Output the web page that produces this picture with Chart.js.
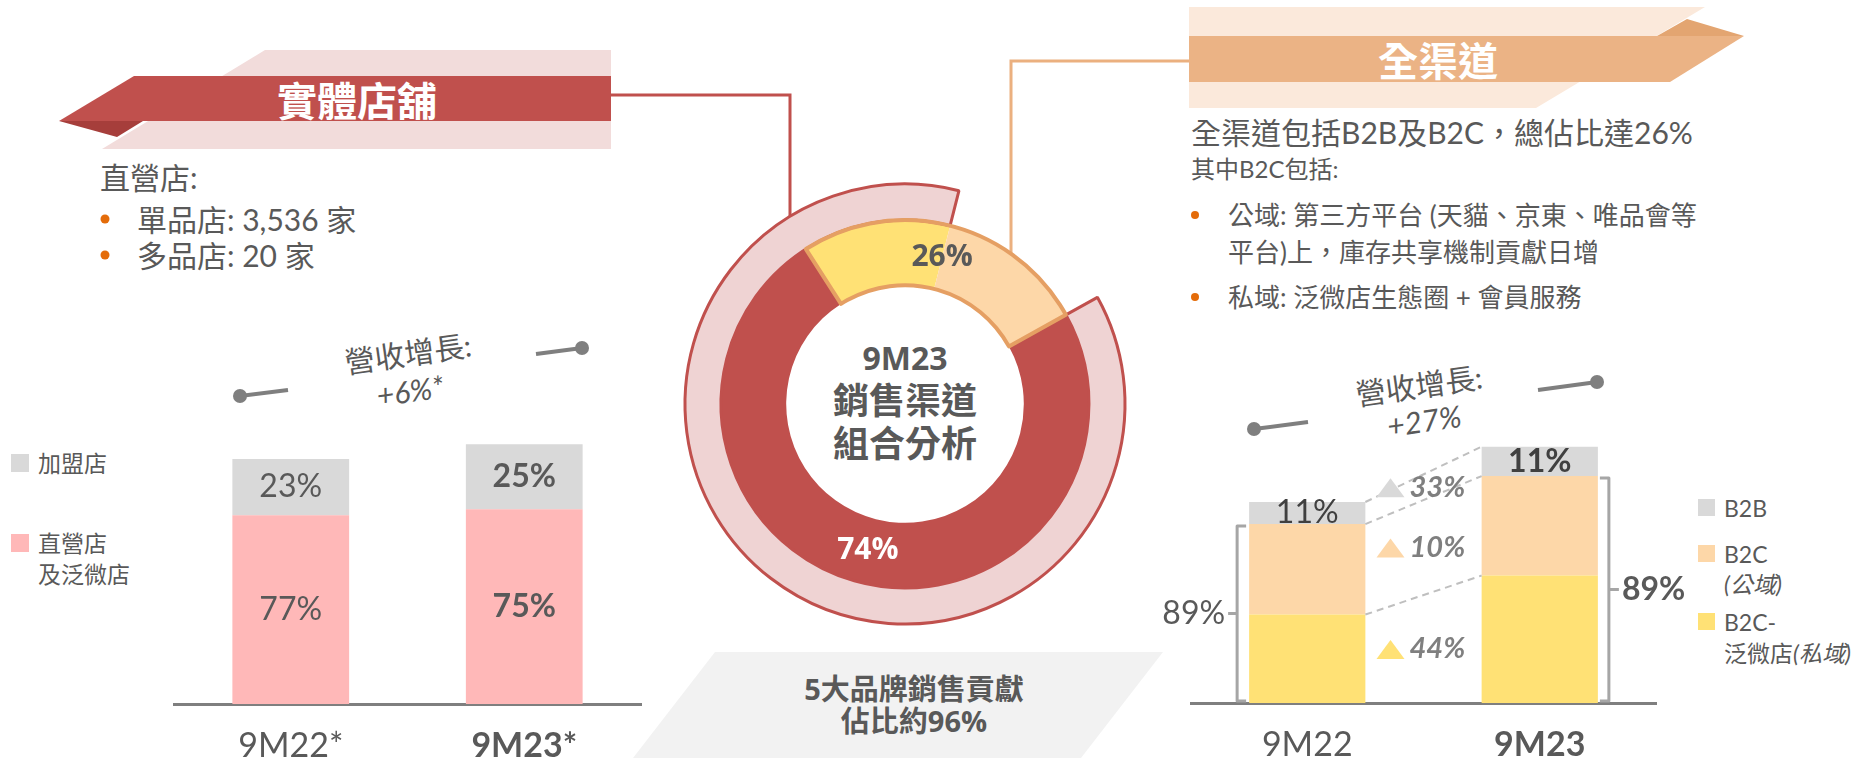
<!DOCTYPE html>
<html>
<head>
<meta charset="utf-8">
<script src="https://cdn.jsdelivr.net/npm/chart.js@4/dist/chart.umd.min.js"></script>
<style>
  html, body { margin: 0; padding: 0; background: #fff; }
  #wrap { position: relative; width: 1866px; height: 758px; overflow: hidden; }
  #deco { position: absolute; left: 0; top: 0; z-index: 0; }
  canvas { position: absolute; z-index: 1; }
  .t { font-family: Lato, "Noto Sans CJK TC", sans-serif; fill: #595959; }
  .b { font-family: "Open Sans", "Noto Sans CJK TC", sans-serif; font-weight: bold; fill: #595959; }
</style>
</head>
<body>
<div id="wrap">
<svg id="deco" width="1866" height="758" xmlns="http://www.w3.org/2000/svg">
  <!-- bottom note -->
  <polygon points="715,652 1163,652 1081,758 633,758" fill="#F2F2F2"/>
  <text class="b" x="914" y="688" font-size="29" text-anchor="middle" dominant-baseline="central">5大品牌銷售貢獻</text>
  <text class="b" x="914" y="720" font-size="29" text-anchor="middle" dominant-baseline="central">佔比約96%</text>

  <!-- left banner -->
  <polygon points="265,50 611,50 611,149 102,149" fill="#F2DCDB"/>
  <polygon points="134,76 611,76 611,121 59,121" fill="#C0504D"/>
  <polygon points="59,121 143,121 117,137" fill="#A63E3B"/>
  <text x="357" y="99" font-family="'Noto Sans CJK TC', sans-serif" font-weight="bold" font-size="40" fill="#fff" text-anchor="middle" dominant-baseline="central">實體店舖</text>
  <polyline points="611,95 790,95 790,218" fill="none" stroke="#C0504D" stroke-width="3"/>

  <text class="t" x="100" y="177" font-size="30" dominant-baseline="central">直營店:</text>
  <circle cx="105" cy="219" r="4.5" fill="#E46C0A"/>
  <text class="t" x="137" y="219" font-size="30" dominant-baseline="central">單品店: 3,536 家</text>
  <circle cx="105" cy="255" r="4.5" fill="#E46C0A"/>
  <text class="t" x="137" y="255" font-size="30" dominant-baseline="central">多品店: 20 家</text>

  <text class="t" x="408" y="353" font-size="30" text-anchor="middle" dominant-baseline="central" transform="rotate(-8 408 353)">營收增長:</text>
  <text id="leftGrowth" class="t" x="410" y="390" font-size="30" font-style="italic" text-anchor="middle" dominant-baseline="central" transform="rotate(-8 410 390)"></text>
  <line x1="240" y1="396" x2="288" y2="390" stroke="#7F7F7F" stroke-width="4"/>
  <circle cx="240" cy="396" r="7" fill="#7F7F7F"/>
  <line x1="536" y1="354" x2="582" y2="348" stroke="#7F7F7F" stroke-width="4"/>
  <circle cx="582" cy="348" r="7" fill="#7F7F7F"/>

  <g id="leftLegend"></g>

  <!-- right banner -->
  <polygon points="1189,7 1705,7 1536,108 1189,108" fill="#FBE9DB"/>
  <polygon points="1189,36 1744,36 1670,82 1189,82" fill="#EBB385"/>
  <polygon points="1657,36 1687,19 1744,36" fill="#E3A571"/>
  <text x="1438" y="59" font-family="'Noto Sans CJK TC', sans-serif" font-weight="bold" font-size="40" fill="#fff" text-anchor="middle" dominant-baseline="central">全渠道</text>
  <polyline points="1011,256 1011,61 1189,61" fill="none" stroke="#EBB07F" stroke-width="3"/>

  <text class="t" x="1191" y="132" font-size="30" dominant-baseline="central">全渠道包括B2B及B2C，總佔比達26%</text>
  <text class="t" x="1191" y="168" font-size="24" dominant-baseline="central">其中B2C包括:</text>
  <circle cx="1195" cy="215" r="4" fill="#E46C0A"/>
  <text class="t" x="1228" y="215" font-size="26" dominant-baseline="central">公域: 第三方平台 (天貓、京東、唯品會等</text>
  <text class="t" x="1228" y="252" font-size="26" dominant-baseline="central">平台)上，庫存共享機制貢獻日增</text>
  <circle cx="1195" cy="297" r="4" fill="#E46C0A"/>
  <text class="t" x="1228" y="297" font-size="26" dominant-baseline="central">私域: 泛微店生態圈 + 會員服務</text>

  <text class="t" x="1419" y="385" font-size="30" text-anchor="middle" dominant-baseline="central" transform="rotate(-8 1419 385)">營收增長:</text>
  <text id="rightGrowth" class="t" x="1424" y="420" font-size="30" font-style="italic" text-anchor="middle" dominant-baseline="central" transform="rotate(-8 1424 420)"></text>
  <line x1="1254" y1="429" x2="1308" y2="422" stroke="#7F7F7F" stroke-width="4"/>
  <circle cx="1254" cy="429" r="7" fill="#7F7F7F"/>
  <line x1="1538" y1="390" x2="1597" y2="382" stroke="#7F7F7F" stroke-width="4"/>
  <circle cx="1597" cy="382" r="7" fill="#7F7F7F"/>

  <g id="rightLegend"></g>

  <!-- donut centre -->
  <text class="b" x="905" y="357" font-size="32" text-anchor="middle" dominant-baseline="central">9M23</text>
  <text class="b" x="905" y="400" font-size="36" text-anchor="middle" dominant-baseline="central">銷售渠道</text>
  <text class="b" x="905" y="443" font-size="36" text-anchor="middle" dominant-baseline="central">組合分析</text>
</svg>

<canvas id="leftChart" width="520" height="418" style="left:150px;top:340px"></canvas>
<canvas id="donutChart" width="480" height="480" style="left:665px;top:164px"></canvas>
<canvas id="rightChart" width="560" height="418" style="left:1140px;top:340px"></canvas>
</div>

<script>
// ---- left: 實體店舖 revenue mix (9M22 = 100) ----
const leftCategories = ["9M22*", "9M23*"];
const leftDirect = [77, 79.5];       // 直營店及泛微店
const leftFranchise = [23, 26.5];    // 加盟店
const leftDirectLabels = ["77%", "75%"];
const leftFranchiseLabels = ["23%", "25%"];
const leftGrowth = "+6%*";

// ---- centre: 9M23 channel mix ----
const channelNames = ["實體店舖", "B2C-泛微店(私域)", "B2C(公域)及B2B"];
const channelValues = [74, 13, 13];
const channelLabels = ["74%", "26%"];
const ringValues = [87, 13];

// ---- right: 全渠道 revenue mix (9M22 = 100) ----
const rightCategories = ["9M22", "9M23"];
const b2cPrivate = [44, 63.4];
const b2cPublic = [45, 49.5];
const b2b = [11, 14.6];
const b2bLabels = ["11%", "11%"];
const b2cLabels = ["89%", "89%"];
const growthLabels = ["44%", "10%", "33%"];
const rightGrowth = "+27%";

const GREY = "#D9D9D9", PINK = "#FFB8B8", PEACH = "#FDD7A8", YELLOW = "#FFE175", RED = "#C0504D";
const TEXT = "#595959";
const NUM_FONT = 'Lato, "Noto Sans CJK TC", sans-serif';
const BOLD_FONT = '"Open Sans", "Noto Sans CJK TC", sans-serif';

document.getElementById("leftGrowth").textContent = leftGrowth;
document.getElementById("rightGrowth").textContent = rightGrowth;

// legends (svg text)
const NS = "http://www.w3.org/2000/svg";
function svgEl(parent, tag, attrs, text) {
  const el = document.createElementNS(NS, tag);
  for (const k in attrs) el.setAttribute(k, attrs[k]);
  if (text) el.textContent = text;
  parent.appendChild(el);
  return el;
}
const ll = document.getElementById("leftLegend");
svgEl(ll, "rect", { x: 11, y: 454, width: 18, height: 18, fill: GREY });
svgEl(ll, "text", { class: "t", x: 38, y: 463, "font-size": 23, "dominant-baseline": "central" }, "加盟店");
svgEl(ll, "rect", { x: 11, y: 534, width: 18, height: 18, fill: PINK });
svgEl(ll, "text", { class: "t", x: 38, y: 543, "font-size": 23, "dominant-baseline": "central" }, "直營店");
svgEl(ll, "text", { class: "t", x: 38, y: 574, "font-size": 23, "dominant-baseline": "central" }, "及泛微店");

const rl = document.getElementById("rightLegend");
svgEl(rl, "rect", { x: 1698, y: 499, width: 17, height: 17, fill: GREY });
svgEl(rl, "text", { class: "t", x: 1724, y: 508, "font-size": 23, "dominant-baseline": "central" }, "B2B");
svgEl(rl, "rect", { x: 1698, y: 545, width: 17, height: 17, fill: PEACH });
svgEl(rl, "text", { class: "t", x: 1724, y: 554, "font-size": 23, "dominant-baseline": "central" }, "B2C");
svgEl(rl, "text", { class: "t", x: 1724, y: 584, "font-size": 23, "font-style": "italic", "dominant-baseline": "central" }, "(公域)");
svgEl(rl, "rect", { x: 1698, y: 613, width: 17, height: 17, fill: YELLOW });
svgEl(rl, "text", { class: "t", x: 1724, y: 622, "font-size": 23, "dominant-baseline": "central" }, "B2C-");
const t2 = svgEl(rl, "text", { class: "t", x: 1724, y: 653, "font-size": 23, "dominant-baseline": "central" });
svgEl(t2, "tspan", {}, "泛微店");
svgEl(t2, "tspan", { "font-style": "italic" }, "(私域)");

// labels inside the left bars
const leftLabelPlugin = {
  id: "leftLabels",
  afterDatasetsDraw(chart) {
    const ctx = chart.ctx;
    const texts = [leftDirectLabels, leftFranchiseLabels];
    chart.data.datasets.forEach((ds, d) => {
      chart.getDatasetMeta(d).data.forEach((bar, i) => {
        const { x, y, base } = bar.getProps(["x", "y", "base"], true);
        ctx.save();
        ctx.font = (i === 1 ? "bold " : "") + "32px " + NUM_FONT;
        ctx.fillStyle = TEXT;
        ctx.textAlign = "center";
        ctx.textBaseline = "middle";
        ctx.fillText(texts[d][i], x, (y + base) / 2);
        ctx.restore();
      });
    });
  }
};

new Chart(document.getElementById("leftChart"), {
  type: "bar",
  data: {
    labels: leftCategories,
    datasets: [
      { label: "直營店及泛微店", data: leftDirect, backgroundColor: PINK },
      { label: "加盟店", data: leftFranchise, backgroundColor: GREY }
    ]
  },
  options: {
    responsive: false,
    animation: false,
    layout: { padding: { left: 24, right: 29, top: 21, bottom: 0 } },
    datasets: { bar: { barPercentage: 1, categoryPercentage: 0.5 } },
    plugins: { legend: { display: false }, tooltip: { enabled: false } },
    scales: {
      x: {
        stacked: true,
        grid: { display: false, drawTicks: false },
        border: { display: true, color: "#7F7F7F", width: 3 },
        ticks: {
          color: TEXT,
          padding: 22,
          font: (c) => ({ family: NUM_FONT, size: 34, weight: c.index === 1 ? "bold" : "normal" })
        },
        afterFit: (s) => { s.height = 54; }
      },
      y: { stacked: true, display: false, min: 0, max: 140 }
    }
  },
  plugins: [leftLabelPlugin]
});

// outline of the 26% slice and the two percentages
const donutPlugin = {
  id: "donutDecor",
  afterDatasetsDraw(chart) {
    const ctx = chart.ctx;
    const arcs = chart.getDatasetMeta(1).data;
    const a = arcs[1].getProps(["x", "y", "startAngle", "innerRadius", "outerRadius"], true);
    const b = arcs[2].getProps(["endAngle"], true);
    ctx.save();
    ctx.beginPath();
    ctx.arc(a.x, a.y, a.outerRadius, a.startAngle, b.endAngle);
    ctx.arc(a.x, a.y, a.innerRadius, b.endAngle, a.startAngle, true);
    ctx.closePath();
    ctx.strokeStyle = "#E59F63";
    ctx.lineWidth = 4;
    ctx.lineJoin = "round";
    ctx.stroke();

    ctx.textAlign = "center";
    ctx.textBaseline = "middle";
    ctx.font = "bold 30px " + BOLD_FONT;
    const p = arcs[0].tooltipPosition(true);
    ctx.fillStyle = "#fff";
    ctx.fillText(channelLabels[0], p.x, p.y);
    const mid = (a.startAngle + b.endAngle) / 2;
    const r = (a.innerRadius + a.outerRadius) / 2;
    ctx.fillStyle = TEXT;
    ctx.fillText(channelLabels[1], a.x + Math.cos(mid) * r, a.y + Math.sin(mid) * r);
    ctx.restore();
  }
};

new Chart(document.getElementById("donutChart"), {
  type: "doughnut",
  data: {
    labels: channelNames,
    datasets: [
      {
        data: ringValues,
        weight: 36,
        backgroundColor: ["#EFD3D3", "rgba(0,0,0,0)"],
        borderColor: [RED, "rgba(0,0,0,0)"],
        borderWidth: [3, 0]
      },
      {
        data: channelValues,
        weight: 65,
        backgroundColor: [RED, YELLOW, PEACH],
        borderWidth: 0
      }
    ]
  },
  options: {
    responsive: false,
    animation: false,
    radius: 220,
    cutout: "54%",
    rotation: 61,
    plugins: { legend: { display: false }, tooltip: { enabled: false } }
  },
  plugins: [donutPlugin]
});

// right chart decorations: dashed links, growth markers, B2B labels, brackets
const rightPlugin = {
  id: "rightDecor",
  afterDatasetsDraw(chart) {
    const ctx = chart.ctx;
    const metas = [0, 1, 2].map((i) => chart.getDatasetMeta(i).data.map((e) => e.getProps(["x", "y", "base", "width"], true)));
    const half = metas[0][0].width / 2;
    const base = chart.scales.y.getPixelForValue(0);
    const segColors = [YELLOW, PEACH, GREY];

    ctx.save();
    ctx.strokeStyle = "#BFBFBF";
    ctx.lineWidth = 2;
    ctx.setLineDash([7, 5]);
    const mids = [base];
    for (let d = 0; d < 3; d++) {
      const p = metas[d][0], q = metas[d][1];
      ctx.beginPath();
      ctx.moveTo(p.x + half, p.y);
      ctx.lineTo(q.x - half, q.y);
      ctx.stroke();
      mids.push((p.y + q.y) / 2);
    }
    ctx.setLineDash([]);

    const midX = (metas[0][0].x + metas[0][1].x) / 2;
    growthLabels.forEach((txt, d) => {
      const cy = (mids[d] + mids[d + 1]) / 2;
      const tx = midX - 33;
      ctx.beginPath();
      ctx.moveTo(tx - 14, cy + 10);
      ctx.lineTo(tx + 14, cy + 10);
      ctx.lineTo(tx, cy - 9);
      ctx.closePath();
      ctx.fillStyle = segColors[d];
      ctx.fill();
      ctx.font = "italic bold 29px " + NUM_FONT;
      ctx.fillStyle = "#7F7F7F";
      ctx.textAlign = "left";
      ctx.textBaseline = "middle";
      ctx.fillText(txt, midX - 14, cy);
    });

    // B2B percentages
    metas[2].forEach((bar, i) => {
      ctx.font = (i === 1 ? "bold " : "") + "32px " + NUM_FONT;
      ctx.fillStyle = "#404040";
      ctx.textAlign = "center";
      ctx.textBaseline = "middle";
      ctx.fillText(b2bLabels[i], bar.x, (bar.y + bar.base) / 2);
    });

    // brackets around B2C
    ctx.strokeStyle = "#A6A6A6";
    ctx.lineWidth = 3;
    ctx.lineJoin = "round";
    const bottom = base - 2;
    // left
    let bx = metas[0][0].x - half - 12;
    let top = metas[1][0].y + 2;
    let my = (top + bottom) / 2;
    ctx.beginPath();
    ctx.moveTo(bx + 9, top); ctx.lineTo(bx, top); ctx.lineTo(bx, bottom); ctx.lineTo(bx + 9, bottom);
    ctx.moveTo(bx, my); ctx.lineTo(bx - 9, my);
    ctx.stroke();
    ctx.font = "32px " + NUM_FONT;
    ctx.fillStyle = TEXT;
    ctx.textAlign = "right";
    ctx.fillText(b2cLabels[0], bx - 12, my);
    // right
    bx = metas[0][1].x + half + 11;
    top = metas[1][1].y + 2;
    my = (top + bottom) / 2;
    ctx.beginPath();
    ctx.moveTo(bx - 9, top); ctx.lineTo(bx, top); ctx.lineTo(bx, bottom); ctx.lineTo(bx - 9, bottom);
    ctx.moveTo(bx, my); ctx.lineTo(bx + 10, my);
    ctx.stroke();
    ctx.font = "bold 32px " + NUM_FONT;
    ctx.textAlign = "left";
    ctx.fillText(b2cLabels[1], bx + 13, my);
    ctx.restore();
  }
};

new Chart(document.getElementById("rightChart"), {
  type: "bar",
  data: {
    labels: rightCategories,
    datasets: [
      { label: "B2C-泛微店(私域)", data: b2cPrivate, backgroundColor: YELLOW },
      { label: "B2C(公域)", data: b2cPublic, backgroundColor: PEACH },
      { label: "B2B", data: b2b, backgroundColor: GREY }
    ]
  },
  options: {
    responsive: false,
    animation: false,
    layout: { padding: { left: 51, right: 44, top: 21.3, bottom: 0 } },
    datasets: { bar: { barPercentage: 1, categoryPercentage: 0.5 } },
    plugins: { legend: { display: false }, tooltip: { enabled: false } },
    scales: {
      x: {
        stacked: true,
        grid: { display: false, drawTicks: false },
        border: { display: true, color: "#7F7F7F", width: 3 },
        ticks: {
          color: TEXT,
          padding: 22,
          font: (c) => ({ family: NUM_FONT, size: 34, weight: c.index === 1 ? "bold" : "normal" })
        },
        afterFit: (s) => { s.height = 55; }
      },
      y: { stacked: true, display: false, min: 0, max: 170 }
    }
  },
  plugins: [rightPlugin]
});
</script>
</body>
</html>
